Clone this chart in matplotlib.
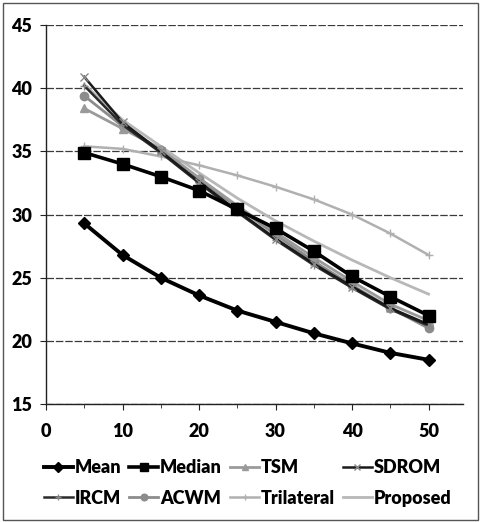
import numpy as np
import matplotlib.pyplot as plt
from matplotlib.patches import Rectangle

# noise density (%) on the x axis
noise = [5, 10, 15, 20, 25, 30, 35, 40, 45, 50]

mean = [29.3, 26.8, 25.0, 23.6, 22.4, 21.5, 20.6, 19.8, 19.05, 18.5]
median = [34.9, 34.0, 33.0, 31.9, 30.4, 28.9, 27.1, 25.1, 23.5, 22.0]
tsm = [38.4, 36.8, 35.2, 32.9, 30.7, 28.6, 26.6, 24.7, 22.9, 21.6]
sdrom = [40.9, 37.3, 35.0, 32.6, 30.3, 28.1, 26.1, 24.3, 22.6, 21.3]
ircm = [40.2, 37.1, 34.9, 32.5, 30.2, 28.0, 26.0, 24.2, 22.5, 21.2]
acwm = [39.4, 37.0, 35.1, 32.8, 30.6, 28.4, 26.3, 24.4, 22.6, 21.0]
trilateral = [35.4, 35.2, 34.6, 33.9, 33.1, 32.2, 31.2, 30.0, 28.5, 26.8]
proposed = [40.3, 37.5, 35.4, 33.3, 31.3, 29.5, 27.9, 26.4, 25.0, 23.7]

plt.rcParams['font.family'] = ['Lato', 'DejaVu Sans']

fig = plt.figure(figsize=(4.81, 5.22), dpi=100)
ax = fig.add_axes([0.0956, 0.226, 0.867, 0.726])

# draw order: light lines first, dark ones on top
ax.plot(noise, proposed, color='#b8b8b8', lw=2, label='Proposed', zorder=3)
ax.plot(noise, trilateral, color='#b0b0b0', lw=1.8, marker='+', ms=6,
        mew=1, label='Trilateral', zorder=3)
ax.plot(noise, acwm, color='#8c8c8c', lw=2, marker='o', ms=6, label='ACWM', zorder=4)
ax.plot(noise, tsm, color='#9a9a9a', lw=2, marker='^', ms=6, label='TSM', zorder=4)
ax.plot(noise, ircm, color='#2a2a2a', lw=1.8, marker='+', ms=6, mec='#888888',
        label='IRCM', zorder=5)
ax.plot(noise, sdrom, color='#1a1a1a', lw=1.8, marker='x', ms=6, mec='#888888',
        label='SDROM', zorder=5)
ax.plot(noise, median, color='black', lw=2.6, marker='s', ms=8, label='Median', zorder=6)
ax.plot(noise, mean, color='black', lw=2.8, marker='D', ms=6, label='Mean', zorder=6)

ax.set_xlim(0, 54.5)
ax.set_ylim(15, 45)
ax.set_xticks(np.arange(0, 51, 10))
ax.set_xticks(np.arange(5, 51, 10), minor=True)
ax.set_yticks(np.arange(15, 46, 5))
ax.yaxis.grid(True, color='#3a3a3a', lw=0.9, ls=(0, (6, 1.5)))
ax.set_axisbelow(True)

for s in ['top', 'right']:
    ax.spines[s].set_visible(False)
for s in ['left', 'bottom']:
    ax.spines[s].set_color('#222222')
    ax.spines[s].set_linewidth(1)

ax.tick_params(axis='both', which='major', labelsize=13, length=4, color='#222222')
ax.tick_params(axis='x', which='minor', length=3, color='#222222')
ax.tick_params(axis='x', pad=10)
ax.tick_params(axis='y', pad=6)
for lab in ax.get_xticklabels() + ax.get_yticklabels():
    lab.set_fontweight('heavy')

order = ['Mean', 'Median', 'TSM', 'SDROM', 'IRCM', 'ACWM', 'Trilateral', 'Proposed']
handles, labels = ax.get_legend_handles_labels()
hmap = dict(zip(labels, handles))
# fill column-wise so the rows read Mean..SDROM / IRCM..Proposed
seq = []
for c in range(4):
    seq += [order[c], order[c + 4]]
leg = fig.legend([hmap[k] for k in seq], seq, loc='center', ncol=4,
                 bbox_to_anchor=(0.515, 0.075), frameon=False, fontsize=13,
                 handlelength=1.6, handletextpad=0.1, columnspacing=0.45,
                 labelspacing=0.75, borderaxespad=0, markerscale=0.8)
for t in leg.get_texts():
    t.set_fontweight('heavy')

fig.patches.append(Rectangle((0.006, 0.004), 0.988, 0.99, transform=fig.transFigure,
                             fill=False, ec='#555555', lw=1))

fig.savefig('out.png', dpi=100)
